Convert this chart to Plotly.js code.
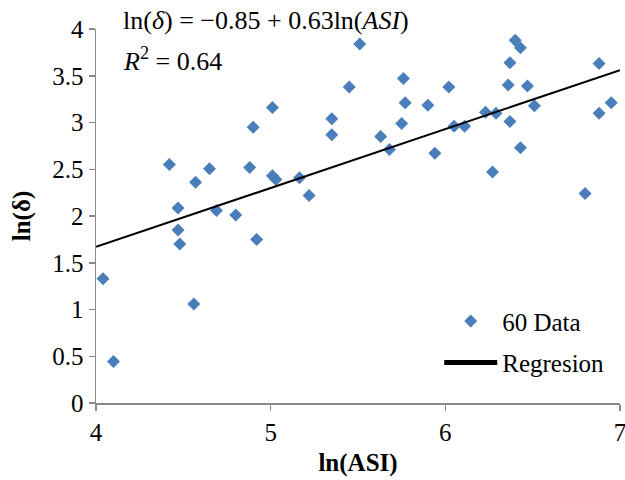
<!DOCTYPE html>
<html>
<head>
<meta charset="utf-8">
<script src="https://cdn.plot.ly/plotly-3.0.1.min.js"></script>
<style>html,body{margin:0;padding:0;background:#fff;}#chart{width:625px;height:480px;}</style>
</head>
<body>
<div id="chart"></div>
<script>
// ln(ASI) values
const lnASI = [4.04, 4.10, 4.42, 4.47, 4.47, 4.48, 4.57, 4.56, 4.65, 4.69,
  4.80, 4.88, 4.90, 4.92, 5.01, 5.01, 5.03, 5.165, 5.22, 5.35,
  5.35, 5.45, 5.51, 5.63, 5.68, 5.75, 5.76, 5.77, 5.90, 5.94,
  6.02, 6.05, 6.11, 6.23, 6.27, 6.29, 6.36, 6.37, 6.37, 6.40,
  6.43, 6.43, 6.47, 6.51, 6.80, 6.88, 6.88, 6.95];
// ln(delta) values
const lnDelta = [1.33, 0.445, 2.55, 2.085, 1.85, 1.70, 2.36, 1.06, 2.505, 2.06,
  2.01, 2.52, 2.95, 1.75, 3.16, 2.43, 2.39, 2.41, 2.22, 3.04,
  2.87, 3.38, 3.84, 2.85, 2.71, 2.99, 3.47, 3.21, 3.185, 2.67,
  3.38, 2.96, 2.96, 3.11, 2.47, 3.10, 3.40, 3.01, 3.64, 3.88,
  3.80, 2.73, 3.39, 3.18, 2.24, 3.63, 3.10, 3.21];
// Regression line endpoints
const regX = [4, 7];
const regY = [1.67, 3.56];
const xTicks = [4, 5, 6, 7];
const yTicks = [0, 0.5, 1, 1.5, 2, 2.5, 3, 3.5, 4];
const yTickText = ['0', '0.5', '1', '1.5', '2', '2.5', '3', '3.5', '4'];

const serif = 'Liberation Serif';
const axisColor = '#898989';

const traces = [
  {x: lnASI, y: lnDelta, type: 'scatter', mode: 'markers', name: '60 Data',
   legendgroup: 'a',
   marker: {symbol: 'diamond', size: 10, color: '#4a7ebb'}},
  {x: regX, y: regY, type: 'scatter', mode: 'lines', name: 'Regresion',
   showlegend: false, line: {color: '#000', width: 2}},
  {x: [null], y: [null], type: 'scatter', mode: 'lines', name: 'Regresion',
   legendgroup: 'b', line: {color: '#000', width: 5}}
];

const layout = {
  width: 625, height: 480,
  margin: {l: 96, r: 5, t: 29, b: 77},
  paper_bgcolor: '#fff', plot_bgcolor: '#fff',
  font: {family: serif, size: 25, color: '#000'},
  showlegend: true,
  legend: {x: 0.655, y: 0.28, xanchor: 'left', yanchor: 'top',
    bgcolor: 'rgba(0,0,0,0)', itemwidth: 53, tracegroupgap: 6,
    font: {family: serif, size: 25, color: '#000'}},
  xaxis: {range: [4, 7], tickvals: xTicks, ticktext: xTicks.map(String),
    showgrid: false, zeroline: false, showline: true, linecolor: axisColor, linewidth: 1.5,
    ticks: 'outside', ticklen: 6, tickcolor: axisColor, tickwidth: 1.5,
    ticklabeloverflow: 'allow',
    tickfont: {family: serif, size: 25, color: '#000'},
    title: {text: '<b>ln(ASI)</b>', font: {family: serif, size: 25, color: '#000'}, standoff: 9}},
  yaxis: {range: [0, 4], tickvals: yTicks, ticktext: yTickText, automargin: true,
    showgrid: false, zeroline: false, showline: true, linecolor: axisColor, linewidth: 1.5,
    ticks: 'outside', ticklen: 6, tickcolor: axisColor, tickwidth: 1.5,
    tickfont: {family: serif, size: 25, color: '#000'},
    title: {text: '<b>ln(δ)</b>', font: {family: serif, size: 25, color: '#000'}, standoff: 14}},
  annotations: [
    {xref: 'paper', yref: 'paper', x: 0.048, y: 1.024, xanchor: 'left', yanchor: 'middle',
     showarrow: false, font: {family: serif, size: 26, color: '#000'},
     text: 'ln(<i>δ</i>) = −0.85 + 0.63ln(<i>ASI</i>)'},
    {xref: 'paper', yref: 'paper', x: 0.048, y: 0.918, xanchor: 'left', yanchor: 'middle',
     showarrow: false, font: {family: serif, size: 26, color: '#000'},
     text: '<i>R</i><sup>2</sup> = 0.64'}
  ]
};

Plotly.newPlot('chart', traces, layout, {displayModeBar: false, staticPlot: true});
</script>
</body>
</html>
